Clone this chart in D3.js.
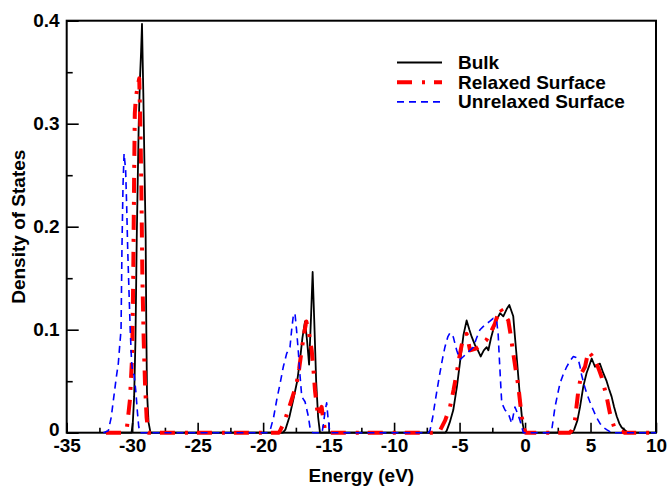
<!DOCTYPE html>
<html>
<head>
<meta charset="utf-8">
<script src="https://cdn.jsdelivr.net/npm/d3@7"></script>
<style>
  body { margin: 0; background: #fff; }
  text { font-family: "Liberation Sans", Arial, Helvetica, sans-serif; font-weight: bold; }
</style>
</head>
<body>
<div class="dos_chart"></div>
<script>
var svgWidth = 668;
var svgHeight = 489;

var margin = {
  top: 20.7,
  right: 12,
  bottom: 56.3,
  left: 66.7
};

var width = svgWidth - margin.left - margin.right;
var height = svgHeight - margin.top - margin.bottom;

// series names and [energy, dos] points
var seriesNames = ["Bulk", "Relaxed Surface", "Unrelaxed Surface"];

var bulk = [
  [-32, 0], [-30.05, 0], [-29.95, 0.01], [-29.85, 0.035], [-29.75, 0.09], [-29.65, 0.19],
  [-29.5, 0.3], [-29.4, 0.345], [-29.32, 0.37], [-29.25, 0.397], [-29.15, 0.33], [-29.05, 0.25],
  [-28.97, 0.19], [-28.92, 0.1], [-28.87, 0.04], [-28.75, 0.01], [-28.6, 0],
  [-18.5, 0], [-18.3, 0.003], [-18.0, 0.015], [-17.7, 0.032], [-17.4, 0.05], [-17.19, 0.07],
  [-17.0, 0.092], [-16.8, 0.108], [-16.65, 0.09], [-16.49, 0.066], [-16.35, 0.11], [-16.22, 0.156],
  [-16.1, 0.11], [-15.95, 0.05], [-15.8, 0.015], [-15.66, 0],
  [-6.1, 0], [-5.98, 0.002], [-5.75, 0.01], [-5.48, 0.022], [-5.2, 0.045], [-4.97, 0.068],
  [-4.7, 0.095], [-4.46, 0.109], [-4.25, 0.1], [-4.07, 0.093], [-3.82, 0.085], [-3.6, 0.08],
  [-3.39, 0.074], [-3.15, 0.08], [-2.93, 0.083], [-2.8, 0.08], [-2.6, 0.092], [-2.43, 0.1],
  [-2.15, 0.11], [-1.91, 0.116], [-1.66, 0.113], [-1.4, 0.12], [-1.2, 0.124], [-0.9, 0.113],
  [-0.75, 0.09], [-0.64, 0.074], [-0.39, 0.035], [-0.2, 0.01], [-0.05, 0],
  [3.6, 0], [3.75, 0.003], [4.0, 0.012], [4.2, 0.025], [4.45, 0.045], [4.7, 0.058], [4.9, 0.065],
  [5.09, 0.072], [5.34, 0.064], [5.52, 0.066], [5.72, 0.067], [5.97, 0.058], [6.23, 0.05],
  [6.4, 0.043], [6.61, 0.035], [6.8, 0.025], [7.0, 0.016], [7.2, 0.009], [7.38, 0.005],
  [7.86, 0], [10, 0]
];

var relaxed = [
  [-32, 0], [-30.6, 0], [-30.4, 0.005], [-30.17, 0.032], [-30.0, 0.075], [-29.92, 0.15],
  [-29.85, 0.25], [-29.8, 0.31], [-29.72, 0.325], [-29.6, 0.335], [-29.46, 0.344], [-29.38, 0.3],
  [-29.3, 0.24], [-29.22, 0.15], [-29.12, 0.09], [-29.02, 0.048], [-28.9, 0.015], [-28.77, 0],
  [-18.8, 0], [-18.7, 0.002], [-18.4, 0.01], [-18.08, 0.022], [-17.75, 0.035], [-17.44, 0.048],
  [-17.25, 0.062], [-17.06, 0.08], [-16.85, 0.098], [-16.7, 0.108], [-16.5, 0.097], [-16.29, 0.08],
  [-16.15, 0.06], [-16.04, 0.041], [-15.9, 0.025], [-15.79, 0.016], [-15.65, 0.022], [-15.53, 0.025],
  [-15.4, 0.012], [-15.28, 0.003], [-15.1, 0],
  [-6.7, 0], [-6.5, 0.002], [-6.1, 0.012], [-5.73, 0.025], [-5.45, 0.042], [-5.22, 0.058],
  [-4.95, 0.078], [-4.71, 0.093], [-4.46, 0.096], [-4.2, 0.08], [-3.95, 0.081], [-3.69, 0.082],
  [-3.45, 0.084], [-3.19, 0.087], [-2.95, 0.09], [-2.68, 0.096], [-2.3, 0.106], [-2.1, 0.114],
  [-1.91, 0.121], [-1.7, 0.117], [-1.53, 0.114], [-1.28, 0.109], [-1.1, 0.095], [-0.9, 0.077],
  [-0.7, 0.06], [-0.51, 0.045], [-0.26, 0.016], [-0.1, 0.005], [0.05, 0],
  [3.4, 0], [3.56, 0.002], [3.81, 0.012], [4.07, 0.041], [4.32, 0.058], [4.58, 0.064],
  [4.83, 0.079], [5.09, 0.075], [5.3, 0.071], [5.47, 0.067], [5.65, 0.061], [5.85, 0.054],
  [6.05, 0.044], [6.23, 0.035], [6.48, 0.019], [6.79, 0.006], [7.25, 0.002], [7.6, 0], [10, 0]
];

var unrelaxed = [
  [-32.2, 0], [-31.82, 0.002], [-31.6, 0.015], [-31.4, 0.035], [-31.2, 0.055], [-31.06, 0.067],
  [-30.95, 0.085], [-30.85, 0.1], [-30.78, 0.18], [-30.7, 0.24], [-30.62, 0.271], [-30.5, 0.255],
  [-30.42, 0.22], [-30.34, 0.177], [-30.25, 0.14], [-30.15, 0.1], [-30.05, 0.07], [-29.96, 0.058],
  [-29.85, 0.056], [-29.72, 0.04], [-29.6, 0.02], [-29.5, 0.006], [-29.4, 0],
  [-19.7, 0], [-19.47, 0.002], [-19.2, 0.015], [-18.96, 0.032], [-18.7, 0.048], [-18.46, 0.064],
  [-18.2, 0.077], [-17.95, 0.083], [-17.82, 0.1], [-17.7, 0.113], [-17.57, 0.116], [-17.45, 0.1],
  [-17.32, 0.08], [-17.18, 0.055], [-17.05, 0.035], [-16.8, 0.03], [-16.55, 0.016], [-16.4, 0.003],
  [-16.2, 0], [-15.5, 0], [-15.4, 0.008], [-15.28, 0.02], [-15.15, 0.029], [-15.05, 0.015], [-14.9, 0],
  [-7.4, 0], [-7.26, 0.002], [-7.05, 0.015], [-6.88, 0.029], [-6.7, 0.043], [-6.5, 0.058],
  [-6.3, 0.072], [-6.12, 0.083], [-5.9, 0.093], [-5.73, 0.097], [-5.48, 0.093], [-5.22, 0.08],
  [-4.97, 0.071], [-4.7, 0.074], [-4.46, 0.077], [-4.2, 0.08], [-3.95, 0.083], [-3.7, 0.092],
  [-3.44, 0.1], [-3.2, 0.103], [-2.93, 0.106], [-2.7, 0.108], [-2.43, 0.111], [-2.17, 0.109],
  [-2.05, 0.095], [-1.97, 0.074], [-1.85, 0.045], [-1.78, 0.029], [-1.53, 0.022], [-1.28, 0.019],
  [-1.02, 0.009], [-0.77, 0.025], [-0.55, 0.018], [-0.39, 0.012], [-0.13, 0],
  [1.8, 0], [2.03, 0.002], [2.29, 0.025], [2.5, 0.038], [2.67, 0.048], [2.9, 0.056], [3.18, 0.064],
  [3.45, 0.07], [3.69, 0.074], [3.9, 0.073], [4.07, 0.071], [4.2, 0.064], [4.32, 0.056],
  [4.5, 0.047], [4.71, 0.038], [4.95, 0.03], [5.21, 0.022], [5.45, 0.015], [5.72, 0.009],
  [6.0, 0.005], [6.23, 0.003], [6.6, 0], [10, 0]
];

var xMajorTicks = [-35, -30, -25, -20, -15, -10, -5, 0, 5, 10];
var xMinorTicks = [-32.5, -27.5, -22.5, -17.5, -12.5, -7.5, -2.5, 2.5, 7.5];
var yMajorTicks = [0, 0.1, 0.2, 0.3, 0.4];
var yMinorTicks = [0.05, 0.15, 0.25, 0.35];

var svg = d3
  .select(".dos_chart")
  .append("svg")
  .attr("width", svgWidth)
  .attr("height", svgHeight);

var chartGroup = svg.append("g")
  .attr("transform", `translate(${margin.left}, ${margin.top})`);

var xScale = d3.scaleLinear().domain([-35, 10]).range([0, width]);
var yScale = d3.scaleLinear().domain([0, 0.4]).range([height, 0]);

// inward ticks, major and minor
function styleAxis(g) {
  g.select(".domain").remove();
  g.selectAll(".tick line").attr("stroke", "#000").attr("stroke-width", 1.6);
  g.selectAll(".tick text")
    .attr("fill", "#000")
    .style("font-size", "19px")
    .style("font-family", "'Liberation Sans', Arial, sans-serif")
    .style("font-weight", "bold");
}

chartGroup.append("g")
  .attr("transform", `translate(0,${height})`)
  .call(d3.axisBottom(xScale).tickValues(xMajorTicks).tickSize(-10).tickSizeOuter(0)
    .tickPadding(6).tickFormat(d => d < 0 ? "-" + Math.abs(d) : d))
  .call(styleAxis);

chartGroup.append("g")
  .attr("transform", `translate(0,${height})`)
  .call(d3.axisBottom(xScale).tickValues(xMinorTicks).tickSize(-5).tickSizeOuter(0).tickFormat(""))
  .call(styleAxis);

var yAxis = chartGroup.append("g")
  .call(d3.axisLeft(yScale).tickValues(yMajorTicks).tickSize(-12).tickSizeOuter(0)
    .tickPadding(7).tickFormat(d => d === 0 ? "0" : d3.format(".1f")(d)))
  .call(styleAxis);

// lift the "0" a little so it clears the "-35" below it
yAxis.selectAll(".tick text")
  .filter(d => d === 0)
  .attr("dy", "0.15em");

chartGroup.append("g")
  .call(d3.axisLeft(yScale).tickValues(yMinorTicks).tickSize(-6).tickSizeOuter(0).tickFormat(""))
  .call(styleAxis);

// frame
chartGroup.append("rect")
  .attr("width", width)
  .attr("height", height)
  .attr("fill", "none")
  .attr("stroke", "#000")
  .attr("stroke-width", 2);

var line = d3.line()
  .x(d => xScale(d[0]))
  .y(d => yScale(d[1]));

var styles = [
  { color: "#000000", width: 1.8, dash: null },
  { color: "#ff0000", width: 4, dash: "15,10,3,9" },
  { color: "#0000ff", width: 1.6, dash: "7,5" }
];

var allSeries = [bulk, relaxed, unrelaxed];

allSeries.forEach(function (data, i) {
  chartGroup.append("path")
    .datum(data)
    .attr("d", line)
    .attr("fill", "none")
    .attr("stroke", styles[i].color)
    .attr("stroke-width", styles[i].width)
    .attr("stroke-dasharray", styles[i].dash)
    .attr("stroke-linejoin", "round");
});

// legend
var legend = svg.append("g");

seriesNames.forEach(function (name, i) {
  var yPos = 62.5 + i * 19.7;
  legend.append("line")
    .attr("x1", 397)
    .attr("x2", 442)
    .attr("y1", yPos)
    .attr("y2", yPos)
    .attr("stroke", styles[i].color)
    .attr("stroke-width", styles[i].width)
    .attr("stroke-dasharray", styles[i].dash);
  legend.append("text")
    .attr("x", 458)
    .attr("y", yPos + 6.5)
    .style("font-size", "19px")
    .text(name);
});

// axis titles
svg.append("text")
  .attr("x", margin.left + width / 2)
  .attr("y", 482)
  .attr("text-anchor", "middle")
  .style("font-size", "19px")
  .text("Energy (eV)");

svg.append("text")
  .attr("transform", `translate(25, ${margin.top + height / 2}) rotate(-90)`)
  .attr("text-anchor", "middle")
  .style("font-size", "19px")
  .text("Density of States");
</script>
</body>
</html>
